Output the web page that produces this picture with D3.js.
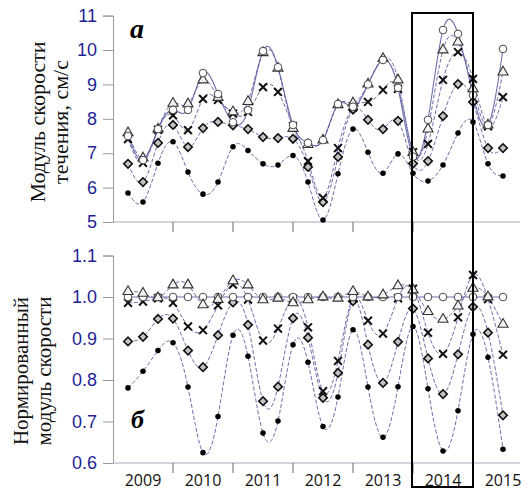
<!DOCTYPE html>
<html>
<head>
<meta charset="utf-8">
<script src="https://cdn.jsdelivr.net/npm/d3@7"></script>
<style>
  html, body { margin: 0; padding: 0; background: #fff; }
  svg { display: block; }
</style>
</head>
<body>
<svg id="chart" width="527" height="490"></svg>
<script>
// Seasonal sampling times (quarters)
const times = [2009.25, 2009.5, 2009.75, 2010.0, 2010.25, 2010.5, 2010.75, 2011.0, 2011.25,
  2011.5, 2011.75, 2012.0, 2012.25, 2012.5, 2012.75, 2013.0, 2013.25, 2013.5, 2013.75,
  2014.0, 2014.25, 2014.5, 2014.75, 2015.0, 2015.25, 2015.5];
const yearLabels = ["2009", "2010", "2011", "2012", "2013", "2014", "2015"];
const yearBounds = [2010, 2011, 2012, 2013, 2014, 2015];
const topTicks = [5, 6, 7, 8, 9, 10, 11];
const bottomTicks = [0.6, 0.7, 0.8, 0.9, 1.0, 1.1];

// Panel а: current speed modulus, cm/s
const speedCircle   = [7.5, 6.8, 7.7, 8.26, 8.26, 9.33, 8.72, 7.9, 8.25, 9.97, 9.5, 7.82, 7.3, 7.38, 8.43, 8.35, 9.0, 9.71, 8.9, 6.9, 7.97, 10.58, 10.47, 8.69, 7.82, 10.03];
const speedTriangle = [7.59, 6.86, 7.7, 8.45, 8.43, 9.13, 8.62, 8.2, 8.5, 9.92, 9.47, 7.72, 7.25, 7.38, 8.41, 8.46, 9.01, 9.75, 9.13, 7.02, 7.7, 10.0, 10.23, 8.87, 7.82, 9.36];
const speedCross    = [7.41, 6.72, 7.68, 8.1, 7.67, 8.58, 8.55, 8.15, 8.2, 8.92, 8.78, 7.79, 6.77, 5.7, 7.15, 8.33, 8.49, 8.84, 8.87, 7.03, 7.27, 9.13, 9.94, 9.16, 7.78, 8.63];
const speedDiamond  = [6.69, 6.16, 7.3, 7.82, 7.18, 7.73, 7.91, 7.81, 7.7, 7.47, 7.44, 7.42, 6.6, 5.58, 6.89, 8.27, 7.97, 7.7, 7.94, 6.7, 6.77, 8.08, 9.01, 8.49, 7.15, 7.15];
const speedDot      = [5.84, 5.58, 6.71, 7.33, 6.45, 5.81, 6.16, 7.19, 7.08, 6.69, 6.66, 6.93, 6.16, 5.06, 6.4, 7.7, 7.03, 6.42, 6.98, 6.42, 6.19, 6.66, 7.59, 7.91, 6.69, 6.34];

// Panel б: normalized speed modulus
const normCircle   = [1, 1, 1, 1, 1, 1, 1, 1, 1, 1, 1, 1, 1, 1, 1, 1, 1, 1, 1, 1, 1, 1, 1, 1, 1, 1];
const normTriangle = [1.013, 1.009, 0.998, 1.029, 1.029, 0.981, 0.994, 1.039, 1.029, 0.993, 0.997, 0.986, 0.993, 1.0, 0.997, 1.013, 1.0, 1.005, 1.027, 1.017, 0.965, 0.946, 0.978, 1.021, 1.0, 0.934];
const normCross    = [0.986, 0.989, 0.997, 0.986, 0.929, 0.92, 0.98, 1.03, 0.994, 0.895, 0.924, 0.996, 0.927, 0.773, 0.846, 0.997, 0.943, 0.912, 0.997, 1.02, 0.914, 0.863, 0.951, 1.053, 0.995, 0.861];
const normDiamond  = [0.893, 0.904, 0.947, 0.948, 0.871, 0.831, 0.908, 0.987, 0.933, 0.749, 0.784, 0.949, 0.902, 0.757, 0.817, 0.99, 0.885, 0.793, 0.892, 0.972, 0.852, 0.766, 0.862, 0.976, 0.914, 0.715];
const normDot      = [0.781, 0.821, 0.871, 0.89, 0.783, 0.625, 0.712, 0.908, 0.857, 0.672, 0.701, 0.885, 0.843, 0.688, 0.759, 0.921, 0.783, 0.662, 0.784, 0.929, 0.779, 0.629, 0.726, 0.91, 0.855, 0.633];

const svg = d3.select("#chart");
const x = d3.scaleLinear().domain([2009, 2016]).range([113, 533]);
const xEnd = 520;
const yTop = d3.scaleLinear().domain([5, 11]).range([222, 15.6]);
const yBot = d3.scaleLinear().domain([0.6, 1.1]).range([463, 255.5]);

const lineColor = "#55559c";
const tickColor = "#1f1f96";

function drawMarkers(g, vals, yScale, kind) {
  const pts = vals.map((v, i) => [x(times[i]), yScale(v)]);
  const sel = g.append("g").selectAll("path").data(pts).join("path")
    .attr("transform", d => `translate(${d[0]},${d[1]})`);
  if (kind === "circle") {
    sel.attr("d", d3.symbol(d3.symbolCircle, 46)())
      .attr("fill", "#fff").attr("stroke", "#4a4a4a").attr("stroke-width", 1);
  } else if (kind === "triangle") {
    sel.attr("d", d3.symbol(d3.symbolTriangle, 44)())
      .attr("fill", "#f2f2f2").attr("stroke", "#333").attr("stroke-width", 1.1);
  } else if (kind === "cross") {
    sel.attr("d", d3.symbol(d3.symbolTimes, 42)())
      .attr("fill", "none").attr("stroke", "#111").attr("stroke-width", 2);
  } else if (kind === "diamond") {
    sel.attr("d", d3.symbol(d3.symbolSquare, 36)())
      .attr("transform", d => `translate(${d[0]},${d[1]}) rotate(45)`)
      .attr("fill", "#c4c4c4").attr("stroke", "#111").attr("stroke-width", 1.6);
  } else {
    sel.attr("d", d3.symbol(d3.symbolCircle, 24)())
      .attr("fill", "#000").attr("stroke", "none");
  }
}

function drawPanel(series, yScale, ticks, fmt, axisY) {
  const g = svg.append("g");
  const line = d3.line().x((d, i) => x(times[i])).y(d => yScale(d)).curve(d3.curveNatural);

  // left axis
  const ya = g.append("g").attr("transform", "translate(113,0)")
    .call(d3.axisLeft(yScale).tickValues(ticks).tickFormat(fmt).tickSize(10).tickPadding(6));
  ya.select(".domain").attr("stroke", "#9a9a9a");
  ya.selectAll(".tick line").attr("stroke", "#9a9a9a");
  ya.selectAll(".tick text").attr("fill", tickColor)
    .style("font-family", "'Liberation Sans', Arial, sans-serif").style("font-size", "18px");

  // bottom axis line with year-boundary ticks
  g.append("line").attr("x1", 113).attr("x2", xEnd).attr("y1", axisY).attr("y2", axisY)
    .attr("stroke", "#a8a8b8").attr("stroke-width", 1.2);
  g.append("g").selectAll("line").data(yearBounds).join("line")
    .attr("x1", d => x(d)).attr("x2", d => x(d))
    .attr("y1", axisY).attr("y2", axisY + 10)
    .attr("stroke", "#666").attr("stroke-width", 1);

  // curves
  series.forEach(s => {
    g.append("path").attr("d", line(s.vals))
      .attr("fill", "none").attr("stroke", lineColor)
      .attr("stroke-width", s.kind === "circle" ? 1.1 : 1)
      .attr("stroke-dasharray", s.kind === "circle" ? null : "4,2")
      .attr("opacity", 0.85);
  });
  series.forEach(s => drawMarkers(g, s.vals, yScale, s.kind));
  return g;
}

drawPanel([
  { vals: speedDot, kind: "dot" },
  { vals: speedDiamond, kind: "diamond" },
  { vals: speedCross, kind: "cross" },
  { vals: speedTriangle, kind: "triangle" },
  { vals: speedCircle, kind: "circle" }
], yTop, topTicks, d3.format("d"), 222);

drawPanel([
  { vals: normDot, kind: "dot" },
  { vals: normDiamond, kind: "diamond" },
  { vals: normCross, kind: "cross" },
  { vals: normCircle, kind: "circle" },
  { vals: normTriangle, kind: "triangle" }
], yBot, bottomTicks, d3.format(".1f"), 463);

// year labels under the lower panel
svg.append("g").selectAll("text").data(yearLabels).join("text")
  .attr("x", d => x(+d + 0.5)).attr("y", 486)
  .attr("text-anchor", "middle")
  .style("font-family", "'Open Sans', sans-serif").style("font-size", "16px")
  .attr("fill", "#111").text(d => d);

// highlighted year frame
svg.append("rect")
  .attr("x", x(2014) - 1).attr("y", 13)
  .attr("width", x(2015) - x(2014) + 1).attr("height", 474)
  .attr("fill", "none").attr("stroke", "#000").attr("stroke-width", 2);

// panel letters
svg.append("text").attr("x", 130).attr("y", 38)
  .style("font-family", "'Liberation Serif', serif").style("font-size", "28px")
  .style("font-weight", "bold").style("font-style", "italic").text("а");
svg.append("text").attr("x", 131).attr("y", 428)
  .style("font-family", "'Liberation Serif', serif").style("font-size", "26px")
  .style("font-weight", "bold").style("font-style", "italic").text("б");

// axis titles
function vtitle(lines, cy, size) {
  lines.forEach(l => {
    svg.append("text")
      .attr("transform", `translate(${l.x},${cy}) rotate(-90)`)
      .attr("text-anchor", "middle")
      .style("font-family", "'Liberation Serif', 'Times New Roman', serif")
      .style("font-size", size + "px").attr("fill", "#111")
      .text(l.t);
  });
}
vtitle([{ t: "Модуль скорости", x: 45 }, { t: "течения, см/с", x: 68 }], 122, 22);
vtitle([{ t: "Нормированный", x: 28 }, { t: "модуль скорости", x: 51 }], 371, 21);
</script>
</body>
</html>
